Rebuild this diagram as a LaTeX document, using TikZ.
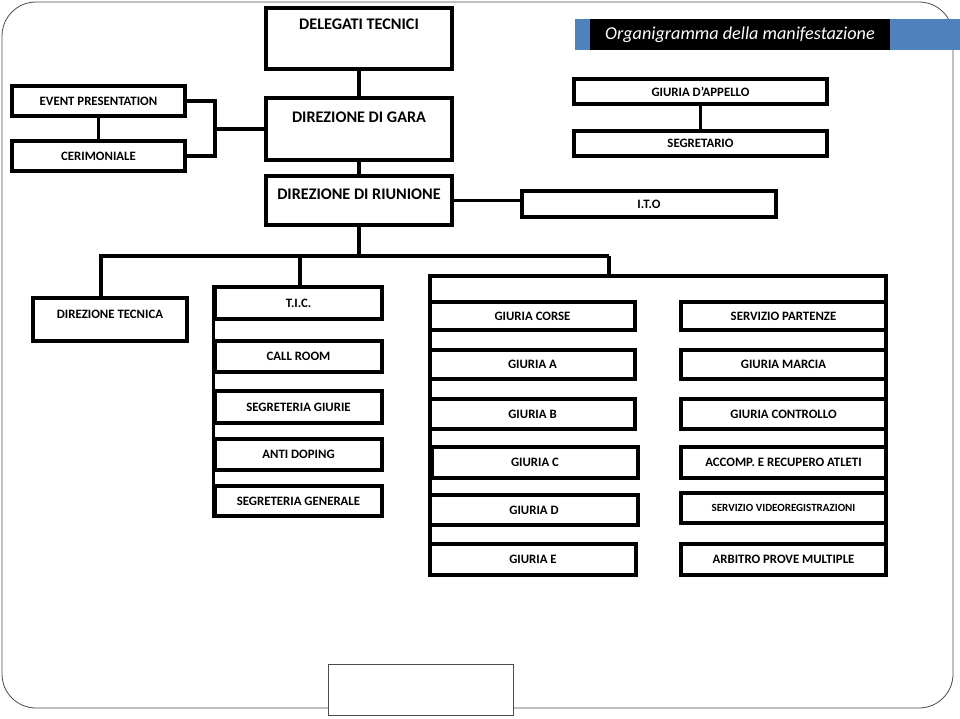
\documentclass[tikz,border=0pt]{standalone}
\usepackage{fontspec}
\setmainfont{Carlito}
\usepackage{tikz}
\usetikzlibrary{calc,positioning}
\definecolor{barblue}{RGB}{79,129,189}
\tikzset{
	box/.style={draw=black, line width=3.4pt, fill=white, inner sep=0pt, font=\bfseries\fontsize{12.8}{14}\selectfont},
	bigfont/.style={font=\bfseries\fontsize{16.2}{17}\selectfont},
	toplbl/.style={anchor=north, inner sep=0pt},
	conn/.style={line width=3.2pt},
}

\begin{document}
\begin{tikzpicture}[x=1pt, y=-1pt]
		%%%%% START %%%%%
		\useasboundingbox (0,0) rectangle (960,718);
		
		% frame of the slide
		\draw[black!70, line width=0.8pt, rounded corners=34pt] (2,2) rectangle (953,708);
		\draw[black!70, line width=0.8pt, fill=white] (328,664) rectangle (513,715);
		
		% title bar
		\fill[barblue] (575,19) rectangle (960,50);
		\fill[black] (590,19) rectangle (890,50);
		\node[text=white, font=\itshape\fontsize{18.2}{19}\selectfont] (title) at (740,35) {Organigramma della manifestazione};
		
		% top of the tree
		\node[box, minimum width=186pt, minimum height=61pt,
			label={[toplbl, bigfont, yshift=-12pt]north:DELEGATI TECNICI}] (dt) at (359,38.5) {};
		\node[box, minimum width=186pt, minimum height=62pt,
			label={[toplbl, bigfont, yshift=-15pt]north:DIREZIONE DI GARA}] (dg) at (359,129) {};
		\node[box, minimum width=186pt, minimum height=49pt,
			label={[toplbl, bigfont, yshift=-14pt]north:DIREZIONE DI RIUNIONE}] (dr) at (359,200.5) {};
		
		\node[box, minimum width=173pt, minimum height=30pt] (ep) at (98.5,101) {EVENT PRESENTATION};
		\node[box, minimum width=173pt, minimum height=30pt] (cer) at (98.5,156) {CERIMONIALE};
		
		\node[box, minimum width=253pt, minimum height=25pt] (ga) at (700.5,91.5) {GIURIA D’APPELLO};
		\node[box, minimum width=253pt, minimum height=25pt] (seg) at (700.5,143.5) {SEGRETARIO};
		\node[box, minimum width=254pt, minimum height=26pt] (ito) at (649,204) {I.T.O};
		
		% second level
		\node[box, minimum width=154pt, minimum height=43pt,
			label={[toplbl, font=\bfseries\fontsize{12.8}{14}\selectfont, yshift=-14pt]north:DIREZIONE TECNICA}] (dtec) at (110,319.5) {};
		
		\node[box, minimum width=167pt, minimum height=32pt] (tic) at (298.5,303) {T.I.C.};
		\node[box, minimum width=167pt, minimum height=31pt] (call) at (298.5,356.5) {CALL ROOM};
		\node[box, minimum width=167pt, minimum height=32pt] (sgiu) at (298.5,407) {SEGRETERIA GIURIE};
		\node[box, minimum width=167pt, minimum height=31pt] (adop) at (298.5,454.5) {ANTI DOPING};
		\node[box, minimum width=167pt, minimum height=30pt] (sgen) at (298.5,501) {SEGRETERIA GENERALE};
		
		\node[box, minimum width=205pt, minimum height=28pt] (gcor) at (532.5,316) {GIURIA CORSE};
		\node[box, minimum width=205pt, minimum height=29pt] (gA) at (532.5,364.5) {GIURIA A};
		\node[box, minimum width=205pt, minimum height=30pt] (gB) at (532.5,414) {GIURIA B};
		\node[box, minimum width=206pt, minimum height=31pt] (gC) at (535,462.5) {GIURIA C};
		\node[box, minimum width=208pt, minimum height=30pt] (gD) at (534,510) {GIURIA D};
		\node[box, minimum width=206pt, minimum height=31pt] (gE) at (533,559.5) {GIURIA E};
		
		\node[box, minimum width=205pt, minimum height=28pt] (spar) at (783.5,316) {SERVIZIO PARTENZE};
		\node[box, minimum width=205pt, minimum height=29pt] (gmar) at (783.5,364.5) {GIURIA MARCIA};
		\node[box, minimum width=205pt, minimum height=30pt] (gcon) at (783.5,414) {GIURIA CONTROLLO};
		\node[box, minimum width=205pt, minimum height=31pt] (acc) at (783.5,462.5) {ACCOMP. E RECUPERO ATLETI};
		\node[box, minimum width=205pt, minimum height=30pt, font=\bfseries\fontsize{11}{12}\selectfont] (svid) at (783.5,508) {SERVIZIO VIDEOREGISTRAZIONI};
		\node[box, minimum width=205pt, minimum height=31pt] (apm) at (783.5,559.5) {ARBITRO PROVE MULTIPLE};
		
		% connectors
		\coordinate (brk) at (215,129);
		\coordinate (busL) at (101,256);
		\coordinate (busR) at (609,256);
		\coordinate (busT) at (300,256);
		\coordinate (grpL) at (430,276);
		\coordinate (grpR) at (886,276);
		
		\draw[conn] (dt.south) -- (dg.north);
		\draw[conn] (dg.south) -- (dr.north);
		\draw[conn] (ep.south) -- (cer.north);
		\draw[conn] (ep.east) -| (brk) |- (cer.east);
		\draw[conn] (brk) -- (dg.west);
		\draw[conn] (ga.south) -- (seg.north);
		\draw[conn] (dr.east) -- (dr.east -| ito.west);
		\draw[conn] (dr.south) -- (dr.south |- busL);
		\draw[conn] (busL |- dtec.north) -- (busL) -- (busR);
		\draw[conn] (busT) -- (busT |- tic.north);
		\draw[conn] (busR) -- (busR |- grpL);
		\draw[conn] (tic.north west) -- (sgen.south west);
		\draw[conn] (gE.south west -| grpL) -- (grpL) -- (grpR) -- (apm.south east -| grpR);
		
		%%%%% END %%%%%
	\end{tikzpicture}
\end{document}
